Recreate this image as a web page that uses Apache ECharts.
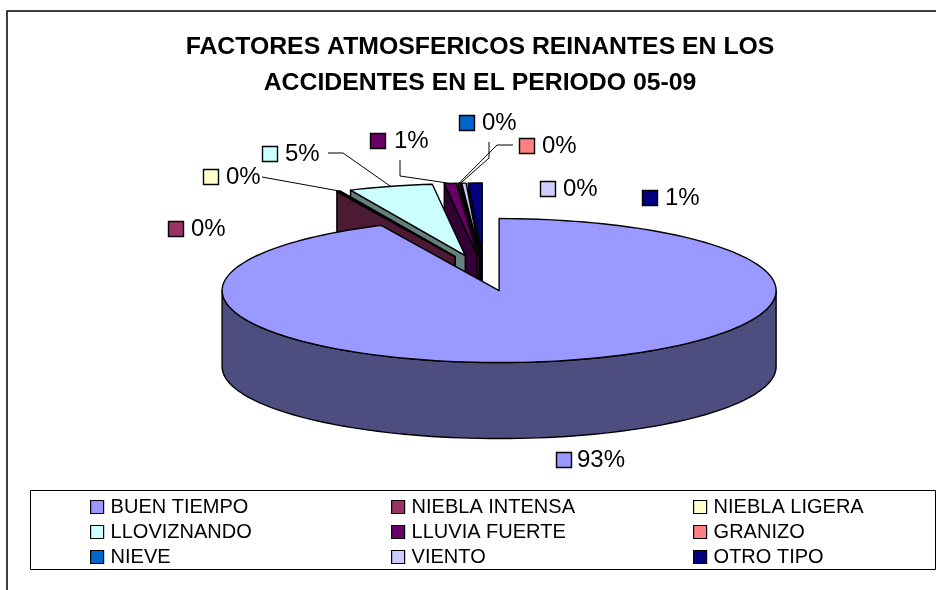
<!DOCTYPE html>
<html><head><meta charset="utf-8">
<style>html,body{margin:0;padding:0;background:#fff}#c{width:936px;height:590px}</style>
<script src="https://cdn.jsdelivr.net/npm/echarts@6/dist/echarts.min.js"></script>
</head><body><div id="c"></div>
<script>
const categories = ['BUEN TIEMPO','NIEBLA INTENSA','NIEBLA LIGERA','LLOVIZNANDO','LLUVIA FUERTE','GRANIZO','NIEVE','VIENTO','OTRO TIPO'];
const values = [93.0,0.15,0.05,4.9,0.7,0.1,0.05,0.25,0.8];
const percentLabels = ['93%','0%','0%','5%','1%','0%','0%','0%','1%'];
const colors = ['#9999FF','#993366','#FFFFCC','#CCFFFF','#660066','#FF8080','#0066CC','#CCCCFF','#000080'];
const wallColors = ['#4D4D80','#4D1A33','#808066','#668080','#330033','#804040','#003366','#666680','#000040'];

const FONT = '"Liberation Sans", Arial, sans-serif';
const CX = 484, CY = 273, RX = 277, RY = 72, DEPTH = 76, EXPLODE = 0.25;
// label placement: key-square centre, text left edge
const labelPos = [[564,460,577],[176,229,191],[211,177,226],[270,154,285],[378,141,394],[527,146,542],[467,123,482],[548,189,563],[650,198,665]];
// leader polylines start at the label side and end on the slice's outer rim
const leaders = {2:[[262,177]],3:[[328,153],[343,153]],4:[[400,160],[400,176]],5:[[513,145],[497,145]],6:[[489,142],[489,158]]};
const zOrder = [9,8,7,6,5,4,3,2,1];

const total = values.reduce((a,b)=>a+b,0);
const starts = []; let acc = 0;
values.forEach(v=>{starts.push(acc); acc += v/total*360;});
const rad = d=>d*Math.PI/180;
function apex(i){
  const mid = rad(starts[i]+values[i]/total*180);
  return [CX+EXPLODE*RX*Math.sin(mid), CY-EXPLODE*RY*Math.cos(mid)];
}
function rim(a,deg){ return [a[0]+RX*Math.sin(rad(deg)), a[1]-RY*Math.cos(rad(deg))]; }
function arc(a,d0,d1){ const n=Math.max(2,Math.ceil((d1-d0)/2)), p=[]; for(let k=0;k<=n;k++) p.push(rim(a,d0+(d1-d0)*k/n)); return p; }
const line = {stroke:'#000',lineWidth:1.4,lineJoin:'round'};

function sliceItem(i){
  return function(){
    const a = apex(i), d0 = starts[i], d1 = d0+values[i]/total*360, kids = [];
    // outer wall, visible on the near half
    const w0 = Math.max(d0,90), w1 = Math.min(d1,270);
    if(w1>w0){
      const top = arc(a,w0,w1), bot = top.map(p=>[p[0],p[1]+DEPTH]).reverse();
      kids.push({type:'polygon',shape:{points:top.concat(bot)},style:Object.assign({fill:wallColors[i]},line)});
    }
    // cut face on the start edge when it faces the viewer
    if(d0>180 && d0<360){
      const o = rim(a,d0);
      kids.push({type:'polygon',shape:{points:[a,o,[o[0],o[1]+DEPTH],[a[0],a[1]+DEPTH]]},style:Object.assign({fill:wallColors[i]},line)});
    }
    // top face
    kids.push({type:'polygon',shape:{points:[a].concat(arc(a,d0,d1))},style:Object.assign({fill:colors[i]},line)});
    return {type:'group',children:kids};
  };
}
function labelItem(){
  const kids = [];
  values.forEach((v,i)=>{
    const a = apex(i), mid = starts[i]+v/total*180, p = labelPos[i];
    if(leaders[i]){
      kids.push({type:'polyline',shape:{points:leaders[i].concat([rim(a,mid)])},style:{stroke:'#000',lineWidth:1,fill:null}});
    }
    kids.push({type:'rect',shape:{x:p[0]-7.5,y:p[1]-7.5,width:15,height:15},style:{fill:colors[i],stroke:'#000',lineWidth:1.4}});
    kids.push({type:'text',style:{text:percentLabels[i],x:p[2],y:p[1],fill:'#000',font:'24px '+FONT,textVerticalAlign:'middle',verticalAlign:'middle'}});
  });
  return {type:'group',children:kids};
}

const series = categories.map((name,i)=>({
  type:'custom',name,coordinateSystem:'none',z:zOrder[i]+1,silent:true,animation:false,
  itemStyle:{color:colors[i]},data:[[values[i]]],renderItem:sliceItem(i)
}));
series.push({type:'custom',name:'labels',coordinateSystem:'none',z:20,silent:true,animation:false,data:[[0]],renderItem:labelItem});

function legendCol(x,idx){
  return {orient:'vertical',left:x,top:492,itemWidth:13,itemHeight:13,itemGap:5,selectedMode:false,
    data:idx.map(k=>categories[k]),icon:'rect',
    itemStyle:{borderColor:'#000',borderWidth:1.2},
    textStyle:{fontFamily:FONT,fontSize:20,color:'#000',padding:[0,0,0,2]}};
}

const chart = echarts.init(document.getElementById('c'),null,{renderer:'canvas'});
chart.setOption({
  animation:false,backgroundColor:'#fff',
  title:{text:'FACTORES ATMOSFERICOS REINANTES EN LOS\nACCIDENTES EN EL PERIODO 05-09',left:475,top:24,textAlign:'center',
    textStyle:{fontFamily:FONT,fontSize:24.8,fontWeight:'bold',color:'#000',lineHeight:36}},
  legend:[legendCol(85,[0,3,6]),legendCol(386,[1,4,7]),legendCol(688,[2,5,8])],
  graphic:[
    {type:'polyline',z:-1,shape:{points:[[7,590],[7,11],[936,11]]},style:{stroke:'#000',lineWidth:1.5,fill:null}},
    {type:'rect',z:-1,shape:{x:30.5,y:490.5,width:905,height:79},style:{fill:'#fff',stroke:'#000',lineWidth:1}}
  ],
  series
});
</script></body></html>
